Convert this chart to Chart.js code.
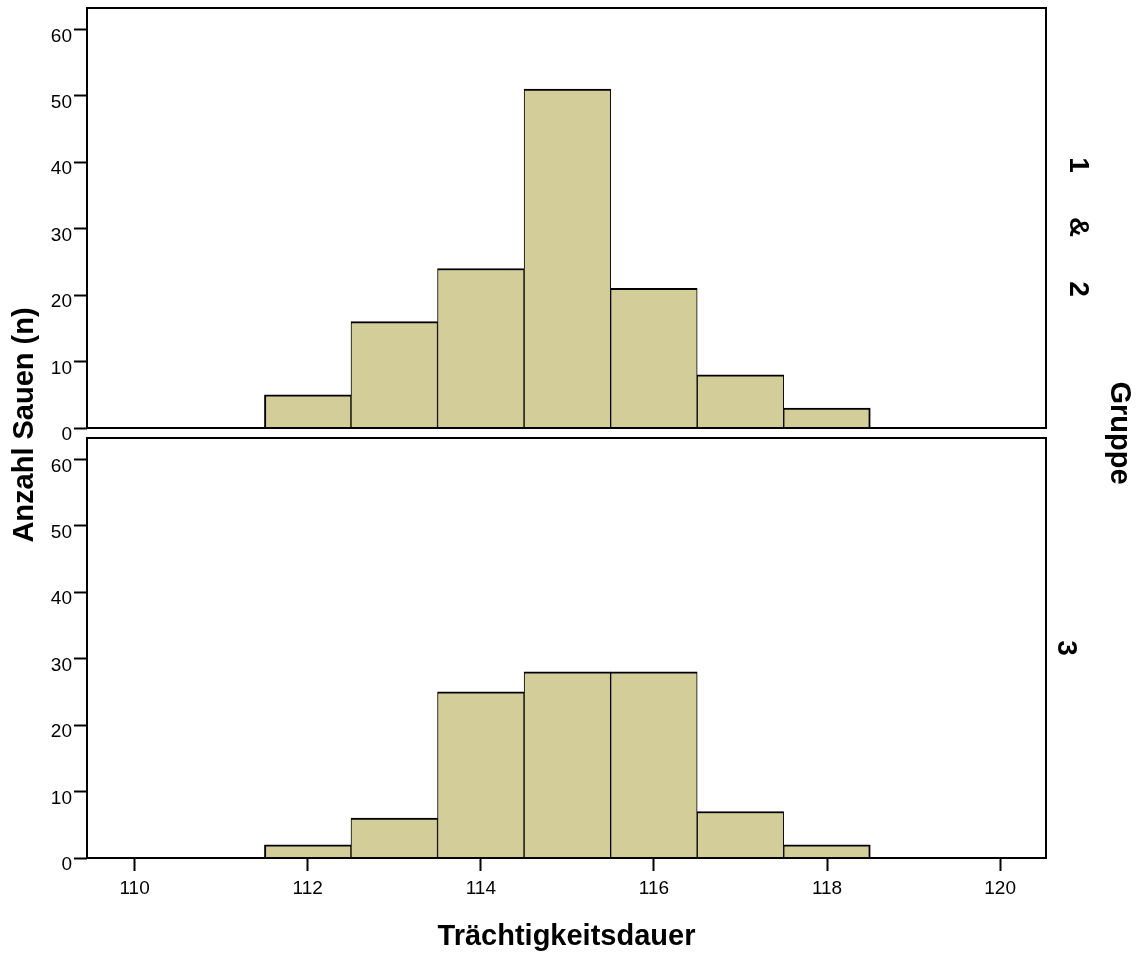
<!DOCTYPE html>
<html>
<head>
<meta charset="utf-8">
<title>Trächtigkeitsdauer</title>
<script src="https://cdn.jsdelivr.net/npm/chart.js@4.4.1/dist/chart.umd.min.js"></script>
<style>
    html, body { margin: 0; padding: 0; background: #fff; }
    #wrap { position: relative; width: 1142px; height: 954px; }
    #wrap canvas { position: absolute; left: 0; top: 0; }
</style>
</head>
<body>
<div id="wrap">
    <canvas id="chartTop" width="1142" height="954"></canvas>
    <canvas id="chartBottom" width="1142" height="954"></canvas>
</div>
<script>
// Histogram bins (Trächtigkeitsdauer in Tagen) and counts per Gruppe
const binCenters = [112, 113, 114, 115, 116, 117, 118];
const countsGroup12 = [5, 16, 24, 51, 21, 8, 3];
const countsGroup3 = [2, 6, 25, 28, 28, 7, 2];

const xTicks = [110, 112, 114, 116, 118, 120];
const yTicks = [0, 10, 20, 30, 40, 50, 60];
const xRange = [109.45, 120.53];
const yMax = 63.2;

const panelLabels = ['1 & 2', '3'];
const xTitle = 'Trächtigkeitsdauer';
const yTitle = 'Anzahl Sauen (n)';
const facetTitle = 'Gruppe';

const BAR_FILL = '#d3ce99';
const FONT = '"Liberation Sans", Arial, Helvetica, sans-serif';

Chart.defaults.font.family = FONT;
Chart.defaults.color = '#000';

// box around each panel
const framePlugin = {
    id: 'frame',
    afterDraw(chart) {
        const { ctx, chartArea: a } = chart;
        ctx.save();
        ctx.strokeStyle = '#000';
        ctx.lineWidth = 2;
        ctx.strokeRect(a.left, a.top, a.right - a.left, a.bottom - a.top);
        ctx.restore();
    }
};

function drawRotated(ctx, text, x, y, angle, font) {
    ctx.save();
    ctx.translate(x, y);
    ctx.rotate(angle);
    ctx.font = font;
    ctx.fillStyle = '#000';
    ctx.textAlign = 'center';
    ctx.textBaseline = 'middle';
    ctx.fillText(text, 0, 0);
    ctx.restore();
}

// panel label on the right, tokens spread apart like the SPSS facet label
function drawPanelLabel(ctx, label, x, yCenter, gap) {
    const parts = label.split(' ');
    const start = yCenter - gap * (parts.length - 1) / 2;
    parts.forEach((p, i) => {
        drawRotated(ctx, p, x, start + i * gap, Math.PI / 2, 'bold 28px ' + FONT);
    });
}

const outerTextPlugin = {
    id: 'outerText',
    afterDraw(chart) {
        const ctx = chart.ctx;
        drawRotated(ctx, yTitle, 25, 425, -Math.PI / 2, 'bold 29px ' + FONT);
        drawRotated(ctx, facetTitle, 1119, 433, Math.PI / 2, 'bold 29px ' + FONT);
        drawPanelLabel(ctx, panelLabels[0], 1078, 227, 62);
        drawPanelLabel(ctx, panelLabels[1], 1066, 648, 62);
    }
};

function makePanel(canvasId, counts, isBottom) {
    const last = counts.length - 1;
    const ctx = document.getElementById(canvasId).getContext('2d');

    return new Chart(ctx, {
        type: 'bar',
        data: {
            datasets: [{
                data: binCenters.map((x, i) => ({ x: x, y: counts[i] })),
                backgroundColor: BAR_FILL,
                borderColor: '#000',
                borderWidth: (c) => ({
                    top: 2,
                    bottom: 0,
                    left: c.dataIndex === 0 ? 2 : 1,
                    right: c.dataIndex === last ? 2 : 1
                }),
                barPercentage: 1,
                categoryPercentage: 1
            }]
        },
        options: {
            responsive: false,
            animation: false,
            devicePixelRatio: 1,
            layout: {
                padding: { left: 0, right: 96, top: isBottom ? 438 : 8, bottom: isBottom ? 0 : 526 }
            },
            scales: {
                x: {
                    type: 'linear',
                    display: isBottom,
                    min: xRange[0],
                    max: xRange[1],
                    offset: false,
                    afterBuildTicks: (scale) => { scale.ticks = xTicks.map(v => ({ value: v })); },
                    afterFit: (scale) => {
                        scale.height = isBottom ? 96 : 0;
                        scale.paddingLeft = 0;
                        scale.paddingRight = 0;
                    },
                    grid: {
                        offset: false,
                        drawOnChartArea: false,
                        drawTicks: true,
                        tickLength: 13,
                        tickWidth: 2,
                        tickColor: '#000'
                    },
                    border: { display: false },
                    ticks: {
                        font: { size: 19 },
                        color: '#000',
                        padding: 6,
                        maxRotation: 0,
                        autoSkip: false
                    },
                    title: {
                        display: true,
                        text: xTitle,
                        font: { size: 29, weight: 'bold' },
                        color: '#000',
                        padding: { top: 0, bottom: 0 }
                    }
                },
                y: {
                    min: 0,
                    max: yMax,
                    afterBuildTicks: (scale) => { scale.ticks = yTicks.map(v => ({ value: v })); },
                    afterFit: (scale) => {
                        scale.width = 87;
                        scale.paddingTop = 0;
                        scale.paddingBottom = 0;
                    },
                    grid: {
                        drawOnChartArea: false,
                        drawTicks: true,
                        tickLength: 13,
                        tickWidth: 2,
                        tickColor: '#000'
                    },
                    border: { display: false },
                    ticks: {
                        font: { size: 19 },
                        color: '#000',
                        padding: 2,
                        labelOffset: 7
                    }
                }
            },
            plugins: {
                legend: { display: false },
                tooltip: { enabled: false }
            }
        },
        plugins: isBottom ? [framePlugin, outerTextPlugin] : [framePlugin]
    });
}

document.addEventListener('DOMContentLoaded', () => {
    makePanel('chartTop', countsGroup12, false);
    makePanel('chartBottom', countsGroup3, true);
});
</script>
</body>
</html>
